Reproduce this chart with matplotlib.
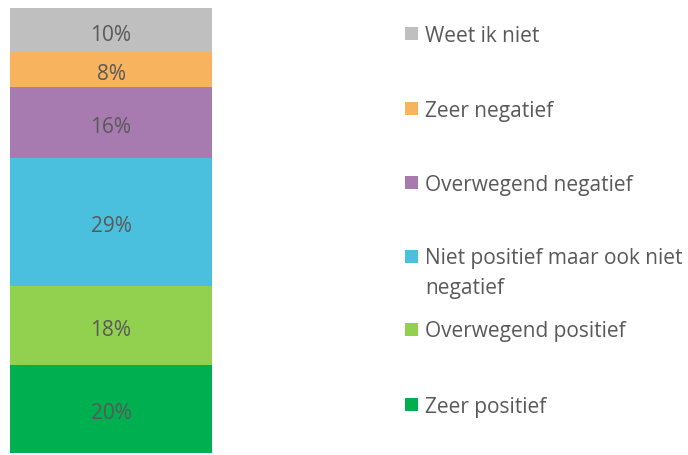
import matplotlib
matplotlib.use("Agg")

import matplotlib.pyplot as plt
from matplotlib.patches import Rectangle
from matplotlib.transforms import offset_copy

TEXT_COLOR = "#595959"
FONT = ["Open Sans", "DejaVu Sans"]

# bottom to top
categories = ["Zeer positief", "Overwegend positief",
              "Niet positief maar ook niet\nnegatief", "Overwegend negatief",
              "Zeer negatief", "Weet ik niet"]
values = [20, 18, 29, 16, 8, 10]
colors = ["#00B050", "#92D050", "#4BC0DE", "#A77BB0", "#F8B35E", "#BFBFBF"]

# legend row centres (pixels from top), same order as categories
legend_y = [404, 329, 270.5, 182, 108, 34]

W, H = 688, 455


def main():
    fig = plt.figure(figsize=(W / 100, H / 100), dpi=100, facecolor="white")

    ax = fig.add_axes([10 / W, 2 / H, 202 / W, 445 / H])
    # matplotlib centres on the full text box, Excel on the glyphs: nudge down
    lbl_tr = offset_copy(ax.transData, fig=fig, x=0, y=-5, units="dots")
    bottom = 0
    for val, col in zip(values, colors):
        ax.bar(0, val, bottom=bottom, width=1.0, color=col, edgecolor="none")
        ax.text(0, bottom + val / 2, f"{val}%", ha="center", va="center",
                color=TEXT_COLOR, fontsize=15, family=FONT, transform=lbl_tr)
        bottom += val
    ax.set_xlim(-0.5, 0.5)
    ax.set_ylim(0, bottom)
    ax.axis("off")

    # legend drawn by hand to keep the uneven spacing of the original
    leg_tr = offset_copy(fig.transFigure, fig=fig, x=0, y=-3, units="dots")
    for label, col, yc in zip(categories, colors, legend_y):
        fy = 1 - yc / H
        sq_y = fy - 6.5 / H
        if "\n" in label:
            sq_y = 1 - (256 + 6.5) / H
        fig.patches.append(Rectangle((405 / W, sq_y), 13 / W, 13 / H,
                                     transform=fig.transFigure,
                                     facecolor=col, edgecolor="none"))
        fig.text(425 / W, fy, label, ha="left", va="center",
                 color=TEXT_COLOR, fontsize=15, family=FONT, linespacing=1.6,
                 transform=leg_tr)

    fig.savefig("out.png", dpi=100, facecolor="white")
    plt.close(fig)


if __name__ == "__main__":
    main()
